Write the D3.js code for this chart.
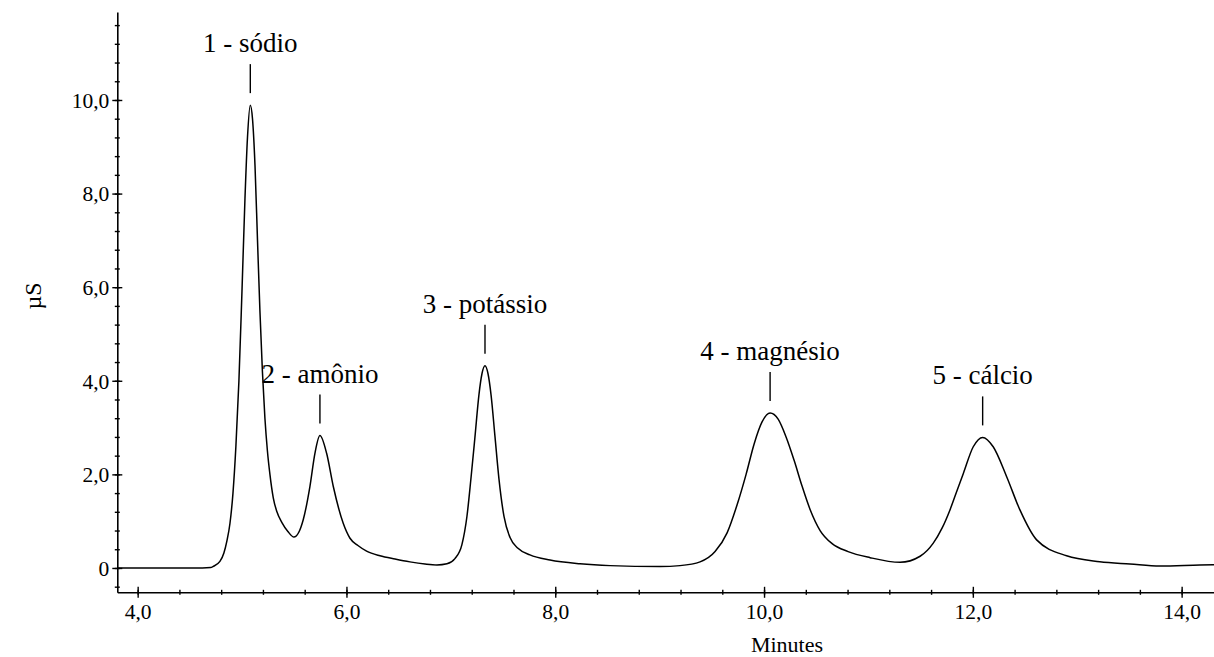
<!DOCTYPE html>
<html>
<head>
<meta charset="utf-8">
<script src="https://cdn.jsdelivr.net/npm/d3@7"></script>
<style>
  body { margin: 0; background: #fff; }
  svg { display: block; }
  text { font-family: "Liberation Serif", "Times New Roman", serif; fill: #000; }
</style>
</head>
<body>
<div id="chart"></div>
<script>
// chromatogram trace (minutes, µS)
var minutes = [3.805, 4.3, 4.62, 4.70, 4.721, 4.788, 4.826, 4.855, 4.884, 4.913, 4.941, 4.970, 4.999, 5.028, 5.052, 5.079,
    5.100, 5.124, 5.148, 5.171, 5.195, 5.219, 5.243, 5.267, 5.299, 5.334, 5.382, 5.439, 5.497,
    5.586, 5.650, 5.698, 5.746, 5.810, 5.874, 5.969, 6.034, 6.110, 6.193, 6.321, 6.465, 6.608, 6.752, 6.867,
    6.963, 7.039, 7.106, 7.154, 7.192, 7.231, 7.269, 7.298, 7.327, 7.356, 7.385, 7.423, 7.461, 7.509, 7.567, 7.643, 7.758, 7.950,
    8.237, 8.525, 9.003, 9.195, 9.387, 9.531, 9.646, 9.742, 9.828, 9.905, 9.981, 10.058,
    10.135, 10.211, 10.288, 10.364, 10.441, 10.537, 10.652, 10.805, 11.016, 11.303,
    11.495, 11.621, 11.705, 11.781, 11.848, 11.909, 12.004, 12.094, 12.195, 12.324, 12.451, 12.611, 12.898,
    13.216, 13.505, 13.792, 14.175, 14.31];
var uS = [0, 0, 0, 0.01, 0.03, 0.14, 0.32, 0.58, 0.95, 1.6, 2.6, 4.0, 5.9, 7.9, 9.2, 9.89,
    9.6, 8.6, 7.0, 5.5, 4.2, 3.2, 2.5, 2.0, 1.5, 1.2, 0.97, 0.78, 0.66,
    1.03, 1.74, 2.45, 2.83, 2.45, 1.74, 0.955, 0.635, 0.48, 0.36, 0.26, 0.19, 0.13, 0.085, 0.065,
    0.09, 0.2, 0.5, 1.1, 1.9, 2.8, 3.7, 4.15, 4.32, 4.15, 3.7, 2.8, 1.9, 1.1, 0.65, 0.42, 0.28, 0.17,
    0.09, 0.05, 0.03, 0.05, 0.13, 0.35, 0.75, 1.35, 2.0, 2.65, 3.12, 3.31,
    3.18, 2.8, 2.3, 1.75, 1.25, 0.8, 0.52, 0.35, 0.22, 0.12,
    0.25, 0.53, 0.85, 1.24, 1.65, 2.02, 2.59, 2.79, 2.59, 1.95, 1.24, 0.6, 0.26,
    0.135, 0.085, 0.04, 0.064, 0.07];

// peaks
var peakNames = ["1 - sódio", "2 - amônio", "3 - potássio", "4 - magnésio", "5 - cálcio"];
var peakTimes = [5.079, 5.746, 7.327, 10.058, 12.094];
var peakHeights = [9.89, 2.83, 4.32, 3.31, 2.79];

var xTicks = [4, 6, 8, 10, 12, 14];
var yTicks = [0, 2, 4, 6, 8, 10];

var width = 1214, height = 657;

var svg = d3.select("#chart").append("svg")
    .attr("width", width)
    .attr("height", height);

var xScale = d3.scaleLinear().domain([3.805, 14.31]).range([117.3, 1214]);
var yScale = d3.scaleLinear().domain([-0.52, 11.88]).range([592.3, 12]);

var fmt = function(d){ return d === 0 ? "0" : d.toFixed(1).replace(".", ","); };

var xMinor = d3.range(4, 14.3, 0.4).map(function(d){ return +d.toFixed(1); });
var yMinor = d3.range(-0.4, 11.8, 0.4).map(function(d){ return +d.toFixed(1); });

// x axis
var gx = svg.append("g")
    .attr("class", "x-axis")
    .attr("transform", "translate(0," + yScale.range()[0] + ")");
gx.call(d3.axisBottom(xScale).tickValues(xMinor).tickSize(0).tickFormat(""));
gx.selectAll(".tick line").attr("y1", -2.5).attr("y2", 2.5);
var gx2 = svg.append("g")
    .attr("transform", "translate(0," + yScale.range()[0] + ")")
    .call(d3.axisBottom(xScale).tickValues(xTicks).tickSize(0).tickPadding(11).tickFormat(fmt));
gx2.select(".domain").remove();
gx2.selectAll(".tick line").attr("y1", -5.5).attr("y2", 5.5);

// y axis
var gy = svg.append("g")
    .attr("class", "y-axis")
    .attr("transform", "translate(" + xScale.range()[0] + ",0)");
gy.call(d3.axisLeft(yScale).tickValues(yMinor).tickSize(0).tickFormat(""));
gy.selectAll(".tick line").attr("x1", -2.5).attr("x2", 2.5);
var gy2 = svg.append("g")
    .attr("transform", "translate(" + xScale.range()[0] + ",0)")
    .call(d3.axisLeft(yScale).tickValues(yTicks).tickSize(0).tickPadding(8).tickFormat(fmt));
gy2.select(".domain").remove();
gy2.selectAll(".tick line").attr("x1", -5).attr("x2", 5);

svg.selectAll(".domain").attr("stroke", "#000").attr("stroke-width", 1.6);
svg.selectAll(".tick line").attr("stroke", "#000").attr("stroke-width", 1.4);
svg.selectAll(".tick text")
    .style("font-family", "'Liberation Serif', 'Times New Roman', serif")
    .style("font-size", "21.5px")
    .attr("fill", "#000");
gx2.selectAll(".tick text").attr("dy", "0.71em");
gy2.selectAll(".tick text").attr("dy", "0.34em");

// axis titles
svg.append("text")
    .attr("x", 787)
    .attr("y", 652)
    .attr("text-anchor", "middle")
    .style("font-size", "22px")
    .text("Minutes");

svg.append("text")
    .attr("text-anchor", "middle")
    .attr("transform", "translate(41,296)rotate(-90)")
    .style("font-size", "24px")
    .text("µS");

// trace
var points = minutes.map(function(m, i){ return [m, uS[i]]; });
var line = d3.line()
    .x(function(d){ return xScale(d[0]); })
    .y(function(d){ return yScale(d[1]); })
    .curve(d3.curveMonotoneX);

svg.append("path")
    .datum(points)
    .attr("fill", "none")
    .attr("stroke", "#000")
    .attr("stroke-width", 1.5)
    .attr("stroke-linejoin", "round")
    .attr("d", line);

// peak labels with leader lines
var labels = svg.append("g").attr("class", "peaks");
peakNames.forEach(function(name, i){
    var px = xScale(peakTimes[i]);
    var py = yScale(peakHeights[i]);
    labels.append("line")
        .attr("x1", px).attr("x2", px)
        .attr("y1", py - 41).attr("y2", py - 12)
        .attr("stroke", "#000")
        .attr("stroke-width", 1.4);
    labels.append("text")
        .attr("x", px)
        .attr("y", py - 53)
        .attr("text-anchor", "middle")
        .style("font-size", "27px")
        .text(name);
});
</script>
</body>
</html>
